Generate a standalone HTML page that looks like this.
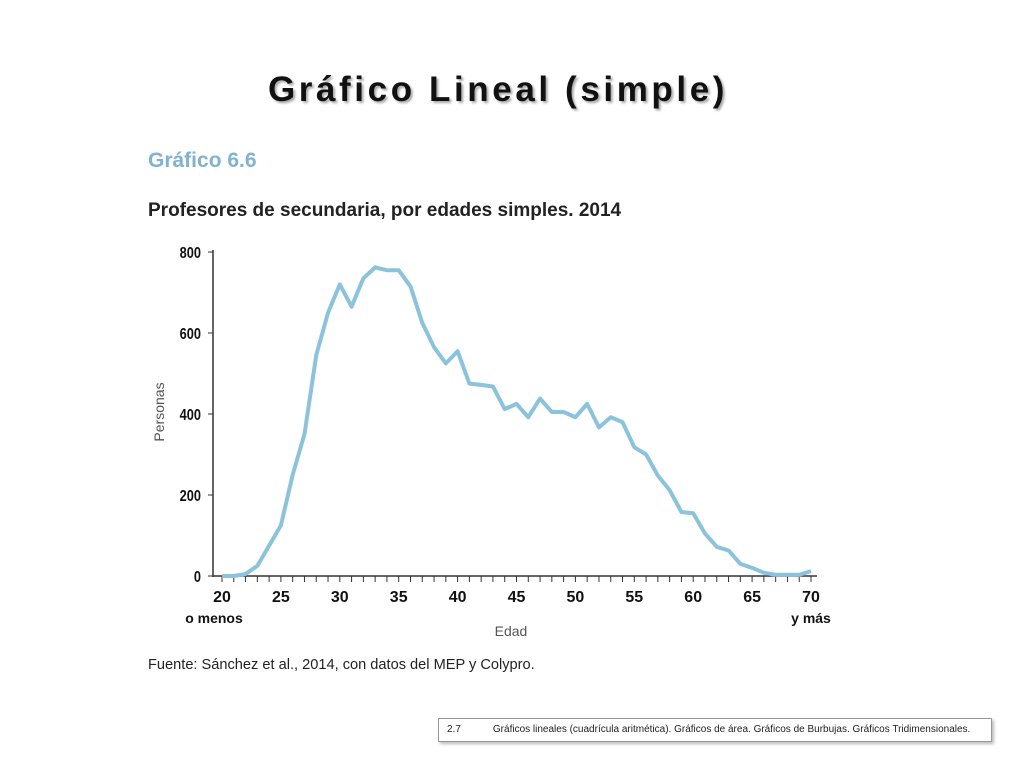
<!DOCTYPE html>
<html><head><meta charset="utf-8"><style>
body{margin:0;width:1024px;height:768px;background:#fff;position:relative;overflow:hidden;font-family:"Liberation Sans",sans-serif}
.t{position:absolute}
</style></head><body>
<div class="t" style="left:0;width:996px;top:70px;text-align:center;font-size:35px;font-weight:bold;letter-spacing:3.6px;color:#111;text-shadow:2px 2px 2px #aaa">Gráfico Lineal (simple)</div>
<div class="t" style="left:148px;top:149px;font-size:21px;font-weight:bold;color:#7fb3cf">Gráfico 6.6</div>
<div class="t" style="left:148px;top:200px;font-size:19px;font-weight:bold;color:#222">Profesores de secundaria, por edades simples. 2014</div>
<div class="t" style="left:148px;top:657px;font-size:14.6px;color:#222">Fuente: Sánchez et al., 2014, con datos del MEP y Colypro.</div>
<div class="t" style="left:438px;top:718px;width:552px;height:22px;border:1px solid #999;box-shadow:2px 2px 3px #bbb;font-size:10px;line-height:22px;color:#222"><span style="margin-left:8px">2.7</span><span style="margin-left:32px">Gráficos lineales (cuadrícula aritmética). Gráficos de área. Gráficos de Burbujas. Gráficos Tridimensionales.</span></div>
<svg id="c" width="1024" height="768" style="position:absolute;left:0;top:0"></svg>
<script>
const ages=[20,21,22,23,24,25,26,27,28,29,30,31,32,33,34,35,36,37,38,39,40,41,42,43,44,45,46,47,48,49,50,51,52,53,54,55,56,57,58,59,60,61,62,63,64,65,66,67,68,69,70];
const personas=[0,0,5,25,75,125,250,350,545,650,720,665,735,762,755,755,715,625,565,525,555,475,472,468,412,425,392,438,405,405,392,425,367,392,380,318,300,248,212,158,155,105,72,63,30,20,8,3,3,3,12];
const yTicks=[0,200,400,600,800];
const xTicks=[20,25,30,35,40,45,50,55,60,65,70];
const ns="http://www.w3.org/2000/svg",svg=document.getElementById('c');
const X=a=>222+(a-20)*(811-222)/50, Y=v=>576-v*(324/800);
function mk(t,a,txt){const e=document.createElementNS(ns,t);for(const k in a)e.setAttribute(k,a[k]);if(txt!=null)e.textContent=txt;svg.appendChild(e);return e;}
let e;
e=mk('line',{x1:213,y1:250,x2:213,y2:577,stroke:'#333','stroke-width':1.5});


e=mk('line',{x1:213,y1:576,x2:817,y2:576,stroke:'#333','stroke-width':1.5});


yTicks.forEach(v=>{
 mk('line',{x1:208,y1:Y(v),x2:213,y2:Y(v),stroke:'#333'});
 e=mk('text',{x:201,y:Y(v)+6,'text-anchor':'end','font-size':16,'font-weight':'bold',fill:'#111',transform:`translate(201 0) scale(0.8 1) translate(-201 0)`},v);
 
 
});
for(let a=20;a<=70;a++){mk('line',{x1:X(a),y1:576,x2:X(a),y2:582,stroke:'#333'});}
xTicks.forEach(a=>{
 e=mk('text',{x:X(a),y:602,'text-anchor':'middle','font-size':16,'font-weight':'bold',fill:'#111'},a);
 
 
});
e=mk('text',{x:214,y:623,'text-anchor':'middle','font-size':14,'font-weight':'bold',fill:'#111'},'o menos');


e=mk('text',{x:811,y:623,'text-anchor':'middle','font-size':14,'font-weight':'bold',fill:'#111'},'y más');


e=mk('text',{x:511,y:636,'text-anchor':'middle','font-size':14,fill:'#555'},'Edad');


e=mk('text',{x:0,y:0,'text-anchor':'middle','font-size':14,fill:'#555',transform:'translate(164 412) rotate(-90)'},'Personas');


e=mk('polyline',{points:ages.map((a,i)=>X(a)+','+Y(personas[i])).join(' '),fill:'none',stroke:'#8cc3dc','stroke-width':4,'stroke-linejoin':'round'});


</script>
</body></html>
